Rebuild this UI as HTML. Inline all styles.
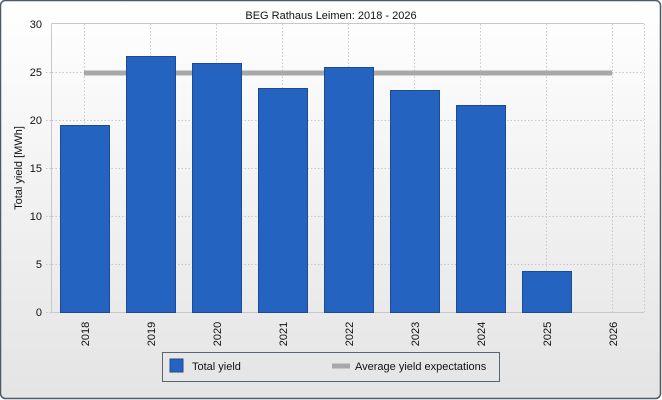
<!DOCTYPE html>
<html><head><style>
html,body{margin:0;padding:0;background:#fff;}
svg{display:block;font-family:"Liberation Sans",Arial,sans-serif;}
</style></head><body>
<svg width="662" height="400" viewBox="0 0 662 400">
<defs>
<linearGradient id="bg" x1="0" y1="0" x2="0" y2="1">
<stop offset="0" stop-color="#ffffff"/><stop offset="1" stop-color="#e4e4e4"/>
</linearGradient>
</defs>
<rect x="0.5" y="0.5" width="660" height="398" rx="5" fill="url(#bg)" stroke="#4f5a64" stroke-width="1.5"/>
<text x="331" y="19" font-size="11" text-anchor="middle" fill="#111">BEG Rathaus Leimen: 2018 - 2026</text>
<!-- grid -->
<g stroke="#c8c8c8" stroke-dasharray="1.5,2" stroke-width="1">
<line x1="52" y1="264.5" x2="644" y2="264.5"/>
<line x1="52" y1="216.5" x2="644" y2="216.5"/>
<line x1="52" y1="168.5" x2="644" y2="168.5"/>
<line x1="52" y1="120.5" x2="644" y2="120.5"/>
<line x1="52" y1="72.5" x2="644" y2="72.5"/>
<line x1="84.5" y1="24" x2="84.5" y2="312"/>
<line x1="150.5" y1="24" x2="150.5" y2="312"/>
<line x1="216.5" y1="24" x2="216.5" y2="312"/>
<line x1="282.5" y1="24" x2="282.5" y2="312"/>
<line x1="348.5" y1="24" x2="348.5" y2="312"/>
<line x1="414.5" y1="24" x2="414.5" y2="312"/>
<line x1="480.5" y1="24" x2="480.5" y2="312"/>
<line x1="546.5" y1="24" x2="546.5" y2="312"/>
<line x1="612.5" y1="24" x2="612.5" y2="312"/>
<line x1="644.5" y1="24" x2="644.5" y2="312"/>
<line x1="46" y1="312.5" x2="52" y2="312.5"/>
<line x1="46" y1="264.5" x2="52" y2="264.5"/>
<line x1="46" y1="216.5" x2="52" y2="216.5"/>
<line x1="46" y1="168.5" x2="52" y2="168.5"/>
<line x1="46" y1="120.5" x2="52" y2="120.5"/>
<line x1="46" y1="72.5" x2="52" y2="72.5"/>
</g>
<line x1="51.5" y1="23.5" x2="51.5" y2="312.5" stroke="#c8c8c8"/>
<line x1="51.5" y1="23.5" x2="644" y2="23.5" stroke="#c8c8c8"/>
<line x1="51.5" y1="312.5" x2="644" y2="312.5" stroke="#c8c8c8"/>
<!-- avg line behind bars -->
<line x1="84" y1="73" x2="612" y2="73" stroke="#a8a8a8" stroke-width="5"/>
<g fill="#2563c0" stroke="#1d4a94" stroke-width="1">
<rect x="60.5" y="125.5" width="49" height="187"/>
<rect x="126.5" y="56.5" width="49" height="256"/>
<rect x="192.5" y="63.5" width="49" height="249"/>
<rect x="258.5" y="88.5" width="49" height="224"/>
<rect x="324.5" y="67.5" width="49" height="245"/>
<rect x="390.5" y="90.5" width="49" height="222"/>
<rect x="456.5" y="105.5" width="49" height="207"/>
<rect x="522.5" y="271.5" width="49" height="41"/>
</g>
<g font-size="11" fill="#111" text-anchor="end">
<text x="42" y="316">0</text>
<text x="42" y="268">5</text>
<text x="42" y="220">10</text>
<text x="42" y="172">15</text>
<text x="42" y="124">20</text>
<text x="42" y="76">25</text>
<text x="42" y="28">30</text>
</g>
<text transform="translate(22,168) rotate(-90)" font-size="11" text-anchor="middle" fill="#111">Total yield [MWh]</text>
<g font-size="11" fill="#111" text-anchor="middle">
<text transform="translate(89,334) rotate(-90)">2018</text>
<text transform="translate(155,334) rotate(-90)">2019</text>
<text transform="translate(221,334) rotate(-90)">2020</text>
<text transform="translate(287,334) rotate(-90)">2021</text>
<text transform="translate(353,334) rotate(-90)">2022</text>
<text transform="translate(419,334) rotate(-90)">2023</text>
<text transform="translate(485,334) rotate(-90)">2024</text>
<text transform="translate(551,334) rotate(-90)">2025</text>
<text transform="translate(617,334) rotate(-90)">2026</text>
</g>
<rect x="162.5" y="352.5" width="337" height="29" fill="none" stroke="#5a6570"/>
<rect x="170" y="359" width="13" height="13" fill="#2563c0" stroke="#1d4a94"/>
<text x="192" y="370" font-size="11" fill="#111">Total yield</text>
<line x1="332" y1="366" x2="350" y2="366" stroke="#a8a8a8" stroke-width="5"/>
<text x="355" y="370" font-size="11" fill="#111">Average yield expectations</text>
</svg>
</body></html>
